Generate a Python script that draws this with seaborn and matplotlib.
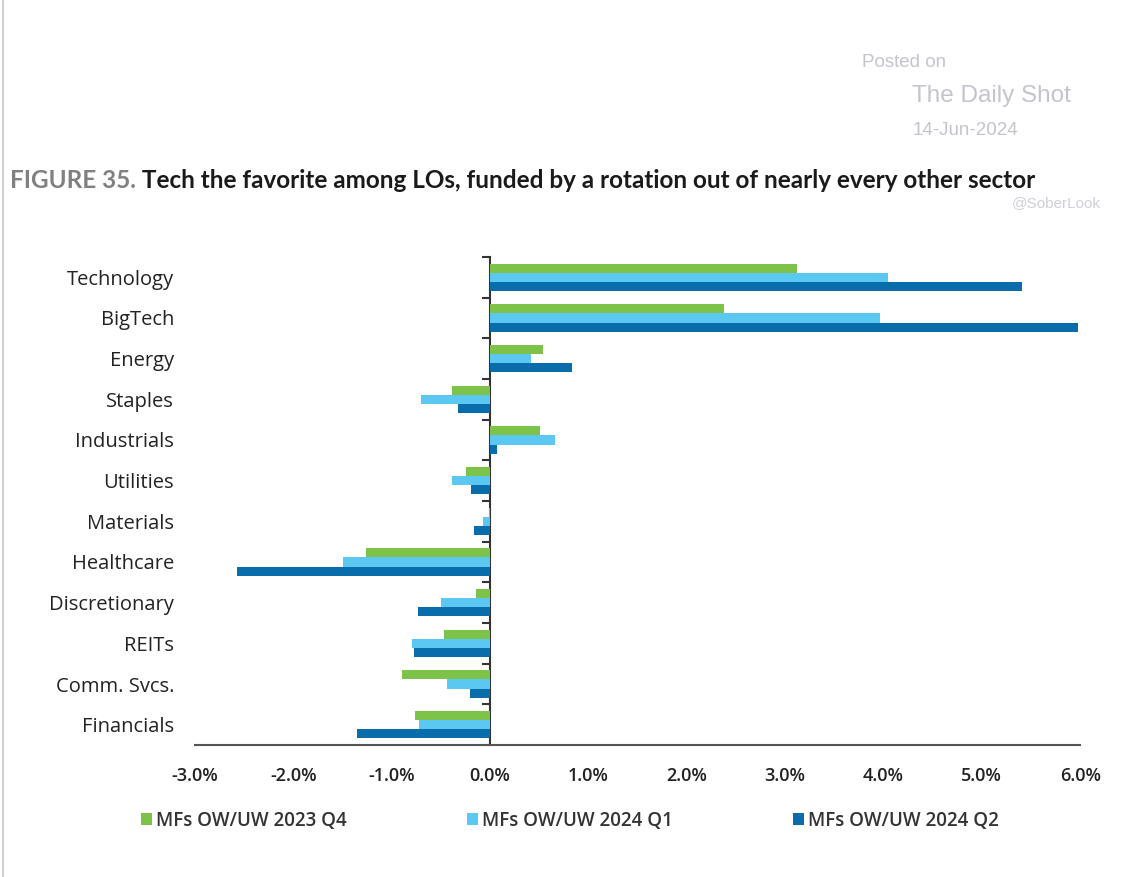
from matplotlib import pyplot as plt
from matplotlib.lines import Line2D
import matplotlib.ticker as mticker
import pandas as pd
import seaborn as sns
import numpy as np

# data (percent over/underweight)
sectors = ["Technology", "BigTech", "Energy", "Staples", "Industrials", "Utilities",
           "Materials", "Healthcare", "Discretionary", "REITs", "Comm. Svcs.", "Financials"]
q4_2023 = [3.12, 2.38, 0.54, -0.39, 0.51, -0.24, -0.01, -1.26, -0.14, -0.47, -0.90, -0.76]
q1_2024 = [4.05, 3.96, 0.42, -0.70, 0.66, -0.39, -0.07, -1.50, -0.50, -0.79, -0.44, -0.72]
q2_2024 = [5.41, 5.98, 0.83, -0.33, 0.07, -0.19, -0.16, -2.57, -0.73, -0.77, -0.20, -1.35]
series = ["MFs OW/UW 2023 Q4", "MFs OW/UW 2024 Q1", "MFs OW/UW 2024 Q2"]
colors = ["#7dc34a", "#5ac8f0", "#0a6dab"]
x_ticks = [-3, -2, -1, 0, 1, 2, 3, 4, 5, 6]

df = pd.DataFrame({"sector": sectors * 3,
                   "value": q4_2023 + q1_2024 + q2_2024,
                   "series": np.repeat(series, len(sectors))})

sns.set_style("white")
plt.rcParams["font.family"] = ["Open Sans", "DejaVu Sans"]

fig = plt.figure(figsize=(11.24, 8.77), dpi=100)
ax = fig.add_axes([0.1735, 0.1505, 0.7875, 0.5565])

sns.barplot(data=df, x="value", y="sector", hue="series", order=sectors,
            hue_order=series, palette=colors, orient="h", width=0.67,
            saturation=1, linewidth=0, ax=ax)

ax.set_xlim(-3, 6)
ax.set_xticks(x_ticks)
ax.xaxis.set_major_formatter(mticker.FuncFormatter(lambda v, p: f"{v:.1f}%"))
ax.set_xlabel("")
ax.set_ylabel("")
for s in ["top", "right", "left"]:
    ax.spines[s].set_visible(False)
ax.spines["bottom"].set_color("#555555")
ax.spines["bottom"].set_linewidth(1.5)
ax.tick_params(axis="x", length=6, width=1.5, color="#555555", labelsize=13,
               pad=10, labelcolor="#222222")
ax.tick_params(axis="y", length=0, labelsize=14.5, pad=15, labelcolor="#222222")
for lbl in ax.get_xticklabels():
    lbl.set_fontweight("semibold")

# zero line with category separator ticks
zero_axis = ax.secondary_yaxis(1 / 3)
zero_axis.set_yticks(np.arange(len(sectors) + 1) - 0.5)
zero_axis.set_yticklabels([])
zero_axis.tick_params(length=6, width=1.5, color="#333333")
zero_axis.spines["left"].set_color("#333333")
zero_axis.spines["left"].set_linewidth(1.5)
ax.set_ylim(len(sectors) - 0.5, -0.5)

ax.legend(loc="upper left", bbox_to_anchor=(-0.08, -0.1), ncol=3, frameon=False,
          handlelength=0.6, handleheight=0.6, handletextpad=0.2, columnspacing=6.4,
          prop={"size": 13.5, "weight": "semibold"}, labelcolor="#333333")

# title: grey figure number followed by bold headline
title_font = ["Lato", "DejaVu Sans"]
t1 = fig.text(0.009, 0.786, "FIGURE 35.", fontsize=17.5, color="#808080",
              family=title_font, fontweight="bold")
ax.annotate(" Tech the favorite among LOs, funded by a rotation out of nearly every other sector",
            xy=(1, 0), xycoords=t1, va="bottom", ha="left", fontsize=17.5, color="#1a1a1a",
            fontweight="bold", family=title_font, annotation_clip=False)

# watermark
wm = dict(color="#c4c4cc", family=["Liberation Sans", "DejaVu Sans"])
fig.text(0.767, 0.924, "Posted on", fontsize=13.5, **wm)
fig.text(0.811, 0.884, "The Daily Shot", fontsize=17.5, **wm)
fig.text(0.812, 0.846, "14-Jun-2024", fontsize=13.5, **wm)
fig.text(0.9, 0.764, "@SoberLook", fontsize=11, alpha=0.8, **wm)

fig.add_artist(Line2D([0.003, 0.003], [0, 1], color="#d0d0d0", lw=1.5))

fig.savefig("out.png", dpi=100)
